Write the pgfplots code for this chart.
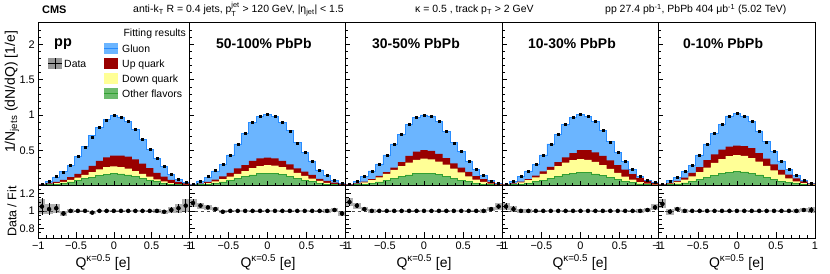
\documentclass[border=0pt]{standalone}
\usepackage{amsmath}
\usepackage{fontspec}
\setmainfont{Liberation Sans}
\usepackage{pgfplots}
\usepackage{pgfplotstable}
\pgfplotsset{compat=1.18}

\definecolor{cgl}{RGB}{107,181,255}
\definecolor{cgll}{RGB}{40,140,255}
\definecolor{cup}{RGB}{153,0,0}
\definecolor{cdn}{RGB}{255,255,150}
\definecolor{cot}{RGB}{108,187,108}
\definecolor{cotl}{RGB}{50,160,50}

% columns: e = bin edge index, G/Y/R/T = tops of green/yellow/red/blue layers,
% D = data, r = data/fit, re = data error, be = band error
\pgfplotstableread{
e G Y R T D r re be
0 0.005 0.008 0.015 0.017 0.018 1.05 0.10 0.09
1 0.010 0.017 0.030 0.063 0.064 1.02 0.07 0.06
2 0.020 0.033 0.050 0.121 0.125 1.03 0.05 0.05
3 0.030 0.052 0.080 0.193 0.187 0.97 0.03 0.03
4 0.050 0.080 0.120 0.290 0.290 1.00 0.02 0.02
5 0.070 0.110 0.165 0.418 0.418 1.00 0.01 0.015
6 0.095 0.150 0.220 0.550 0.550 1.00 0.01 0.015
7 0.120 0.190 0.280 0.704 0.690 0.98 0.01 0.015
8 0.145 0.230 0.350 0.825 0.825 1.00 0.01 0.015
9 0.163 0.260 0.400 0.930 0.930 1.00 0.01 0.015
10 0.170 0.270 0.423 0.990 0.990 1.00 0.01 0.015
11 0.165 0.262 0.423 0.972 0.972 1.00 0.01 0.015
12 0.150 0.240 0.410 0.905 0.905 1.00 0.01 0.015
13 0.125 0.205 0.370 0.800 0.800 1.00 0.01 0.015
14 0.100 0.165 0.310 0.655 0.655 1.00 0.01 0.015
15 0.075 0.125 0.245 0.513 0.513 1.00 0.01 0.015
16 0.052 0.088 0.180 0.385 0.385 1.00 0.02 0.02
17 0.034 0.058 0.125 0.270 0.267 0.99 0.02 0.025
18 0.020 0.034 0.080 0.161 0.163 1.01 0.03 0.03
19 0.011 0.018 0.050 0.089 0.092 1.03 0.05 0.05
20 0.005 0.008 0.030 0.040 0.042 1.06 0.08 0.07
21 0.005 0.008 0.030 0.040 0.042 1.06 0.08 0.07
}\tabA

\pgfplotstableread{
e G Y R T D r re be
0 0.005 0.008 0.012 0.016 0.017 1.09 0.05 0.05
1 0.010 0.018 0.028 0.064 0.068 1.06 0.03 0.035
2 0.020 0.035 0.050 0.120 0.125 1.04 0.02 0.025
3 0.032 0.058 0.085 0.206 0.210 1.02 0.015 0.02
4 0.050 0.090 0.130 0.303 0.300 0.99 0.01 0.015
5 0.072 0.125 0.180 0.433 0.433 1.00 0.01 0.012
6 0.098 0.165 0.244 0.589 0.589 1.00 0.01 0.012
7 0.125 0.205 0.290 0.735 0.735 1.00 0.01 0.012
8 0.150 0.245 0.350 0.896 0.896 1.00 0.01 0.012
9 0.168 0.275 0.385 0.976 0.976 1.00 0.01 0.012
10 0.175 0.290 0.395 1.010 1.010 1.00 0.01 0.012
11 0.168 0.282 0.385 0.976 0.976 1.00 0.01 0.012
12 0.152 0.260 0.350 0.896 0.896 1.00 0.01 0.012
13 0.128 0.225 0.300 0.777 0.777 1.00 0.01 0.012
14 0.100 0.180 0.244 0.607 0.607 1.00 0.01 0.012
15 0.075 0.138 0.196 0.470 0.470 1.00 0.01 0.012
16 0.052 0.097 0.149 0.348 0.348 1.00 0.01 0.012
17 0.034 0.064 0.095 0.220 0.220 1.00 0.01 0.015
18 0.020 0.038 0.064 0.139 0.139 1.00 0.015 0.02
19 0.011 0.020 0.042 0.077 0.078 1.01 0.02 0.025
20 0.005 0.009 0.022 0.031 0.030 0.97 0.03 0.03
21 0.005 0.009 0.022 0.031 0.030 0.97 0.03 0.03
}\tabB

\pgfplotstableread{
e G Y R T D r re be
0 0.005 0.010 0.015 0.019 0.021 1.10 0.05 0.05
1 0.010 0.022 0.030 0.060 0.064 1.06 0.03 0.035
2 0.020 0.045 0.055 0.123 0.125 1.02 0.02 0.025
3 0.032 0.075 0.090 0.206 0.206 1.00 0.015 0.02
4 0.050 0.115 0.135 0.305 0.305 1.00 0.01 0.015
5 0.072 0.165 0.190 0.433 0.433 1.00 0.01 0.012
6 0.098 0.220 0.255 0.589 0.589 1.00 0.01 0.012
7 0.125 0.275 0.330 0.726 0.726 1.00 0.01 0.012
8 0.150 0.325 0.420 0.868 0.868 1.00 0.01 0.012
9 0.168 0.365 0.480 0.967 0.967 1.00 0.01 0.012
10 0.175 0.380 0.500 1.000 1.000 1.00 0.01 0.012
11 0.170 0.370 0.490 0.986 0.986 1.00 0.01 0.012
12 0.155 0.340 0.450 0.905 0.905 1.00 0.01 0.012
13 0.130 0.295 0.390 0.764 0.764 1.00 0.01 0.012
14 0.102 0.240 0.315 0.607 0.607 1.00 0.01 0.012
15 0.077 0.185 0.253 0.480 0.480 1.00 0.01 0.012
16 0.054 0.130 0.195 0.348 0.348 1.00 0.01 0.012
17 0.035 0.085 0.134 0.234 0.234 1.00 0.01 0.015
18 0.020 0.050 0.090 0.140 0.140 1.00 0.015 0.02
19 0.011 0.026 0.050 0.067 0.068 1.02 0.02 0.025
20 0.005 0.012 0.022 0.029 0.030 1.05 0.03 0.035
21 0.005 0.012 0.022 0.029 0.030 1.05 0.03 0.035
}\tabC

\pgfplotstableread{
e G Y R T D r re be
0 0.005 0.010 0.015 0.020 0.021 1.05 0.04 0.045
1 0.011 0.022 0.030 0.063 0.064 1.02 0.03 0.03
2 0.021 0.045 0.055 0.125 0.125 1.00 0.02 0.025
3 0.034 0.075 0.090 0.206 0.206 1.00 0.015 0.02
4 0.053 0.115 0.140 0.300 0.300 1.00 0.01 0.015
5 0.076 0.165 0.200 0.433 0.433 1.00 0.01 0.012
6 0.103 0.220 0.265 0.589 0.589 1.00 0.01 0.012
7 0.130 0.275 0.330 0.730 0.730 1.00 0.01 0.012
8 0.157 0.325 0.400 0.872 0.872 1.00 0.01 0.012
9 0.176 0.360 0.460 0.962 0.962 1.00 0.01 0.012
10 0.185 0.375 0.500 1.010 1.010 1.00 0.01 0.012
11 0.180 0.365 0.500 0.976 0.976 1.00 0.01 0.012
12 0.165 0.335 0.470 0.905 0.905 1.00 0.01 0.012
13 0.140 0.290 0.420 0.778 0.778 1.00 0.01 0.012
14 0.110 0.235 0.355 0.620 0.620 1.00 0.01 0.012
15 0.083 0.180 0.290 0.466 0.466 1.00 0.01 0.012
16 0.058 0.127 0.225 0.338 0.338 1.00 0.01 0.012
17 0.038 0.083 0.160 0.230 0.230 1.00 0.01 0.015
18 0.022 0.048 0.105 0.134 0.134 1.00 0.015 0.02
19 0.012 0.025 0.065 0.077 0.078 1.01 0.02 0.025
20 0.006 0.012 0.033 0.038 0.040 1.04 0.03 0.035
21 0.006 0.012 0.033 0.038 0.040 1.04 0.03 0.035
}\tabD

\pgfplotstableread{
e G Y R T D r re be
0 0.006 0.010 0.015 0.019 0.021 1.08 0.05 0.05
1 0.012 0.025 0.035 0.065 0.064 0.99 0.03 0.035
2 0.023 0.050 0.065 0.114 0.116 1.02 0.02 0.025
3 0.037 0.085 0.110 0.198 0.198 1.00 0.015 0.02
4 0.057 0.130 0.180 0.290 0.290 1.00 0.01 0.015
5 0.082 0.190 0.260 0.433 0.433 1.00 0.01 0.012
6 0.110 0.255 0.360 0.589 0.589 1.00 0.01 0.012
7 0.140 0.320 0.440 0.740 0.740 1.00 0.01 0.012
8 0.168 0.375 0.510 0.872 0.872 1.00 0.01 0.012
9 0.189 0.415 0.550 0.986 0.986 1.00 0.01 0.012
10 0.197 0.430 0.565 1.020 1.020 1.00 0.01 0.012
11 0.192 0.420 0.560 0.986 0.986 1.00 0.01 0.012
12 0.176 0.390 0.530 0.905 0.905 1.00 0.01 0.012
13 0.150 0.340 0.460 0.773 0.773 1.00 0.01 0.012
14 0.120 0.280 0.380 0.620 0.620 1.00 0.01 0.012
15 0.090 0.215 0.300 0.480 0.480 1.00 0.01 0.012
16 0.063 0.155 0.220 0.348 0.348 1.00 0.01 0.012
17 0.041 0.100 0.155 0.234 0.234 1.00 0.01 0.015
18 0.024 0.060 0.100 0.140 0.140 1.00 0.015 0.02
19 0.013 0.032 0.060 0.077 0.078 1.01 0.02 0.025
20 0.006 0.015 0.025 0.030 0.030 1.01 0.03 0.03
21 0.006 0.015 0.025 0.030 0.030 1.01 0.03 0.03
}\tabE

\newcommand{\tfont}[1]{\fontsize{#1}{#1}\selectfont}

\pgfplotsset{
  cmsbase/.style={scale only axis, anchor=south west, xmin=0, xmax=21,
    tick align=inside, xtick pos=bottom, ytick pos=left,
    axis line style={line width=0.8bp},
    every tick/.style={black, line width=0.5bp},
    xtick={0,5.25,10.5,15.75,21},
    minor xtick={1.05,2.1,3.15,4.2,6.3,7.35,8.4,9.45,11.55,12.6,13.65,14.7,16.8,17.85,18.9,19.95},
    tick label style={font=\tfont{11}},
    yticklabels={}, axis on top},
  toppan/.style={cmsbase, height=163.5bp, ymin=0, ymax=2.319,
    ytick={0,0.5,1,1.5,2},
    minor ytick={0.1,0.2,0.3,0.4,0.6,0.7,0.8,0.9,1.1,1.2,1.3,1.4,1.6,1.7,1.8,1.9,2.1,2.2},
    xticklabels={}, major tick length=4.5bp, minor tick length=2.5bp},
  ratpan/.style={cmsbase, height=52.5bp, ymin=0.69, ymax=1.29,
    ytick={0.8,1,1.2},
    minor ytick={0.75,0.85,0.9,0.95,1.05,1.1,1.15,1.25},
    xticklabels={−1,−0.5,0,0.5,1},
    major tick length=5.5bp, minor tick length=3bp},
}

\newcommand{\toppanel}[2]{%
  \addplot[const plot, fill=cgl, draw=none] table[x=e,y=T]{#1} \closedcycle;
  \addplot[const plot, draw=cgll, line width=0.9bp] table[x=e,y=T]{#1};
  \addplot[const plot, fill=cup, draw=none] table[x=e,y=R]{#1} \closedcycle;
  \addplot[const plot, fill=cdn, draw=none] table[x=e,y=Y]{#1} \closedcycle;
  \addplot[const plot, fill=cot, draw=none] table[x=e,y=G]{#1} \closedcycle;
  \addplot[const plot, draw=cotl, line width=0.7bp] table[x=e,y=G]{#1};
  \addplot[only marks, mark=square*, mark size=1bp, black,
    skip coords between index={21}{22}]
    table[x expr=\thisrow{e}+0.5, y=D]{#1};
}
\newcommand{\ratpanel}[2]{%
  \addplot[only marks, mark=none, skip coords between index={21}{22},
    error bars/.cd, y dir=both, y explicit, error mark=none,
    error bar style={line width=#2, draw=black!30}]
    table[x expr=\thisrow{e}+0.5, y=r, y error=be]{#1};
  \addplot[black!70, dashed, line width=0.3bp] coordinates {(0,1) (21,1)};
  \addplot[only marks, mark=*, mark size=1.8bp, black,
    skip coords between index={21}{22},
    error bars/.cd, y dir=both, y explicit, error mark=none,
    error bar style={line width=0.6bp, black}]
    table[x expr=\thisrow{e}+0.5, y=r, y error=re]{#1};
}

\begin{document}
\begin{tikzpicture}
% ---- top panels
\begin{axis}[toppan, at={(38.3bp,88.5bp)}, width=151bp, yticklabels={,0.5,1,1.5,2}]
\toppanel{\tabA}{}
\end{axis}
\begin{axis}[toppan, at={(189.3bp,88.5bp)}, width=156.4bp]
\toppanel{\tabB}{}
\end{axis}
\begin{axis}[toppan, at={(345.7bp,88.5bp)}, width=156.6bp]
\toppanel{\tabC}{}
\end{axis}
\begin{axis}[toppan, at={(502.3bp,88.5bp)}, width=156.4bp]
\toppanel{\tabD}{}
\end{axis}
\begin{axis}[toppan, at={(658.7bp,88.5bp)}, width=156.3bp]
\toppanel{\tabE}{}
\end{axis}
% ---- ratio panels
\begin{axis}[ratpan, at={(38.3bp,36bp)}, width=151bp, yticklabels={0.8,1,1.2}]
\ratpanel{\tabA}{7.19bp}
\end{axis}
\begin{axis}[ratpan, at={(189.3bp,36bp)}, width=156.4bp]
\ratpanel{\tabB}{7.45bp}
\end{axis}
\begin{axis}[ratpan, at={(345.7bp,36bp)}, width=156.6bp]
\ratpanel{\tabC}{7.45bp}
\end{axis}
\begin{axis}[ratpan, at={(502.3bp,36bp)}, width=156.4bp]
\ratpanel{\tabD}{7.45bp}
\end{axis}
\begin{axis}[ratpan, at={(658.7bp,36bp)}, width=156.3bp]
\ratpanel{\tabE}{7.45bp}
\end{axis}

% ---- header
\node[anchor=base west, inner sep=0, font=\bfseries\tfont{11}] at (42bp,260.7bp) {CMS};
\node[anchor=base west, inner sep=0, font=\tfont{10.5}] at (133bp,261bp)
  {anti-k$_{\text{T}}$ R = 0.4 jets, p$_{\text{T}}^{\text{jet}}$ > 120 GeV, |η$_{\text{jet}}$| < 1.5};
\node[anchor=base west, inner sep=0, font=\tfont{10.5}] at (415bp,261bp)
  {κ = 0.5 , track p$_{\text{T}}$ > 2 GeV};
\node[anchor=base west, inner sep=0, font=\tfont{10.5}] at (605bp,261bp)
  {pp 27.4 pb$^{\text{-1}}$, PbPb 404 μb$^{\text{-1}}$ (5.02 TeV)};

% ---- panel labels
\node[anchor=base west, inner sep=0, font=\bfseries\tfont{14.5}] at (54bp,227.5bp) {pp};
\node[anchor=base west, inner sep=0, font=\bfseries\tfont{14}] at (216bp,225.7bp) {50-100\% PbPb};
\node[anchor=base west, inner sep=0, font=\bfseries\tfont{14}] at (372bp,225.7bp) {30-50\% PbPb};
\node[anchor=base west, inner sep=0, font=\bfseries\tfont{14}] at (528bp,225.7bp) {10-30\% PbPb};
\node[anchor=base west, inner sep=0, font=\bfseries\tfont{14}] at (683bp,225.7bp) {0-10\% PbPb};

% ---- legends
\fill[black!40] (48.3bp,204.7bp) rectangle (62.3bp,215.7bp);
\draw[black, line width=1bp] (48.3bp,210.2bp) -- (62.3bp,210.2bp) (55.3bp,204.7bp) -- (55.3bp,215.7bp);
\node[anchor=base west, inner sep=0, font=\tfont{10.5}] at (64bp,206.7bp) {Data};

\node[anchor=base east, inner sep=0, font=\tfont{10.5}] at (186bp,237.3bp) {Fitting results};
\fill[cgl] (104bp,220bp) rectangle (118.3bp,231.3bp);
\draw[cgll, line width=0.6bp] (104bp,225.6bp) -- (118.3bp,225.6bp);
\node[anchor=base west, inner sep=0, font=\tfont{10.5}] at (122bp,221.7bp) {Gluon};
\fill[cup] (104bp,205bp) rectangle (118.3bp,216.3bp);
\node[anchor=base west, inner sep=0, font=\tfont{10.5}] at (122bp,206.7bp) {Up quark};
\fill[cdn] (104bp,190bp) rectangle (118.3bp,201.3bp);
\node[anchor=base west, inner sep=0, font=\tfont{10.5}] at (122bp,191.7bp) {Down quark};
\fill[cot] (104bp,175bp) rectangle (118.3bp,186.3bp);
\draw[cotl, line width=0.6bp] (104bp,180.6bp) -- (118.3bp,180.6bp);
\node[anchor=base west, inner sep=0, font=\tfont{10.5}] at (122bp,176.7bp) {Other flavors};

% ---- axis titles
\node[rotate=90, inner sep=0, font=\tfont{14}] at (12bp,182bp) {1/N$_{\text{jets}}$ (dN/dQ) [1/e]};
\node[rotate=90, inner sep=0, font=\tfont{12.5}] at (12bp,62.5bp) {Data / Fit};
\foreach \xc in {103,268,424,580,736.5}{
  \node[anchor=base, inner sep=0, font=\tfont{14}] at (\xc bp,7bp) {Q$^{\text{κ=0.5}}$ [e]};
}

\pgfresetboundingbox
\useasboundingbox (0,0) rectangle (830bp,274bp);
\end{tikzpicture}
\end{document}
